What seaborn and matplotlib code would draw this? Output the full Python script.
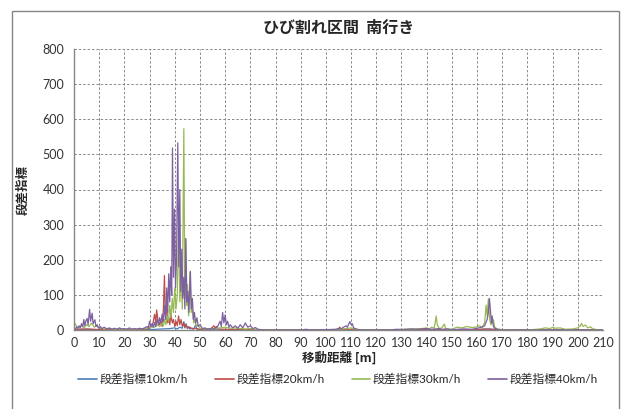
import pandas as pd
import matplotlib.pyplot as plt
import seaborn as sns
from matplotlib.patches import Rectangle
from matplotlib.lines import Line2D

# --------------------------------------------
# DATA
# --------------------------------------------

series_names = ["段差指標10km/h", "段差指標20km/h", "段差指標30km/h", "段差指標40km/h"]
series_colors = ["#4A7EBB", "#BE4B48", "#98B954", "#7D60A0"]

dist_10 = [0, 5, 10, 20, 30, 35, 38, 40, 41, 42, 43, 43.6, 44, 44.5, 45, 45.5, 46, 47,
           47.5, 48.3, 48.7, 49, 50, 60, 100, 160, 165, 170, 210]
val_10 = [1, 2, 1, 0, 1, 3, 4, 6, 3, 8, 5, 24, 6, 18, 4, 10, 3, 5,
          2, 15, 3, 2, 1, 0, 0, 1, 3, 0, 0]

dist_20 = [0, 5, 10, 20, 28, 30, 30.5, 31, 31.5, 32, 32.5, 32.8, 33.3, 34, 34.5, 35, 35.5,
           35.9, 36.3, 36.8, 37.2, 37.6, 38, 38.5, 39, 39.5, 40, 40.5, 41, 41.5, 42, 42.5,
           43, 43.5, 44, 44.5, 45, 46, 47, 48, 50, 54, 55, 55.5, 56, 56.5, 57, 60, 70, 80,
           104, 105, 105.5, 106, 107, 120, 160, 163, 165, 170, 210]
val_20 = [2, 3, 1, 1, 2, 5, 15, 8, 25, 45, 20, 57, 30, 15, 25, 10, 60,
          155, 40, 70, 20, 35, 15, 45, 20, 30, 10, 25, 12, 40, 15, 30,
          10, 20, 8, 15, 5, 8, 3, 5, 2, 3, 8, 12, 6, 10, 3, 2, 1, 0,
          0, 4, 8, 3, 1, 0, 1, 3, 2, 0, 0]

dist_30 = [0, 0.5, 1, 2, 3, 4, 5, 6, 7, 8, 9, 10, 12, 14, 16, 18, 20, 22, 24, 26, 28, 30,
           31, 32, 33, 34, 35, 35.5, 36, 36.5, 37, 37.5, 38, 38.5, 39, 39.5, 40, 40.5, 41,
           41.6, 42, 42.5, 43, 43.6, 44, 44.3, 44.7, 45, 45.5, 46, 46.5, 47, 47.5, 48, 48.5,
           49, 50, 52, 55, 58, 60, 62, 64, 66, 68, 70, 72, 75, 80, 100, 105, 108, 110, 112,
           115, 125, 130, 135, 138, 140, 141, 142, 143, 143.8, 144.2, 145, 146, 147, 147.5,
           148, 150, 152, 154, 156, 158, 160, 161, 162, 163, 163.6, 164, 164.5, 165, 165.5,
           166, 166.5, 167, 168, 170, 175, 180, 185, 187, 189, 190, 191, 193, 195, 198, 200,
           201, 201.5, 202, 203, 204, 205, 206, 207, 208, 210]
val_30 = [15, 18, 10, 8, 12, 6, 15, 10, 20, 8, 12, 5, 3, 4, 2, 3, 2, 3, 2, 3, 4, 6,
          10, 8, 15, 10, 20, 12, 30, 15, 40, 25, 70, 35, 90, 50, 120, 60, 100,
          325, 80, 150, 60, 573, 90, 260, 70, 130, 40, 165, 50, 60, 20, 30, 10,
          15, 5, 3, 4, 6, 8, 5, 6, 4, 3, 4, 2, 1, 0, 0, 2, 4, 6, 2,
          0, 0, 2, 3, 4, 6, 3, 8, 5, 40, 15, 4, 6, 17, 5,
          3, 2, 8, 6, 10, 7, 9, 12, 8, 20, 71, 40, 88, 30, 15,
          20, 29, 8, 3, 1, 0, 0, 3, 6, 4, 8, 5, 6, 2, 3, 6,
          12, 19, 10, 14, 6, 9, 3, 2, 0, 0]

dist_40 = [0, 0.5, 1, 1.5, 2, 2.5, 3, 3.5, 3.9, 4.3, 4.7, 5.2, 5.6, 6.2, 6.6, 7.2, 7.6, 8.3,
           8.7, 9.2, 9.8, 10.5, 11, 12, 13, 14, 15, 16, 17, 18, 19, 20, 21, 22, 23, 24, 25,
           26, 27, 28, 29, 29.5, 30, 30.5, 31, 31.5, 32, 32.5, 33, 33.5, 34, 34.5, 35, 35.5,
           36, 36.4, 36.8, 37.2, 37.6, 38, 38.4, 38.8, 39.1, 39.5, 39.9, 40.3, 40.7, 41.2,
           41.6, 42, 42.4, 42.8, 43.2, 43.6, 44, 44.4, 44.8, 45.2, 45.6, 46.2, 46.6, 47, 47.4,
           47.8, 48.3, 48.8, 49.3, 50, 51, 52, 53, 54, 55, 56, 57, 58, 58.5, 59, 59.5, 60,
           60.5, 61, 61.5, 62, 63, 64, 65, 66, 67, 68, 69, 70, 71, 72, 73, 74, 76, 90, 92, 94,
           100, 104, 105, 106, 107, 108, 108.5, 109.5, 110, 110.5, 111, 112, 113, 115, 125,
           128, 130, 134, 136, 140, 142, 145, 146, 148, 150, 155, 158, 160, 162, 163, 164,
           164.5, 164.9, 165.3, 165.7, 166, 166.5, 167, 168, 170, 210]
val_40 = [5, 3, 8, 5, 12, 6, 18, 10, 30, 12, 25, 33, 15, 59, 25, 48, 18, 29,
          10, 15, 5, 10, 4, 8, 3, 6, 2, 5, 2, 6, 3, 4, 2, 6, 2, 4, 2,
          5, 3, 6, 10, 5, 25, 10, 18, 8, 22, 10, 30, 15, 35, 20, 45, 25,
          70, 30, 120, 50, 160, 80, 180, 100, 518, 150, 344, 120, 200, 533,
          180, 400, 110, 230, 90, 150, 60, 260, 80, 110, 50, 167, 60, 90, 30,
          50, 20, 35, 10, 15, 4, 6, 2, 4, 2, 5, 10, 25, 10, 50, 20, 43,
          15, 25, 8, 15, 6, 12, 5, 15, 6, 20, 8, 12, 4, 7, 2, 1, 0, 0, 2, 0,
          1, 2, 4, 3, 8, 12, 8, 24, 15, 18, 6, 3, 1, 0, 0,
          2, 1, 3, 2, 4, 2, 4, 2, 3, 1, 3, 2, 5, 8, 12, 30,
          50, 90, 57, 20, 40, 10, 5, 2, 0, 0]

x_ticks = list(range(0, 211, 10))
y_ticks = list(range(0, 801, 100))

# --------------------------------------------
# BUILD LONG TABLE
# --------------------------------------------

frames = []
for name, d, v in zip(series_names,
                      [dist_10, dist_20, dist_30, dist_40],
                      [val_10, val_20, val_30, val_40]):
    frames.append(pd.DataFrame({"dist": d, "val": v, "series": name}))
df = pd.concat(frames, ignore_index=True)

# --------------------------------------------
# PLOT
# --------------------------------------------

sns.set_style("white")
plt.rcParams['font.family'] = ['Lato', 'Noto Sans CJK JP', 'DejaVu Sans']

fig = plt.figure(figsize=(6.29, 4.09), dpi=100)
ax = fig.add_axes([74 / 629, 79 / 409, 529 / 629, 281 / 409])

sns.lineplot(data=df, x="dist", y="val", hue="series",
             palette=dict(zip(series_names, series_colors)),
             estimator=None, sort=True, linewidth=0.9, legend=False, ax=ax)

ax.set_xlim(0, 210)
ax.set_ylim(0, 800)
ax.set_xticks(x_ticks)
ax.set_yticks(y_ticks)
ax.tick_params(axis="both", labelsize=9, colors="#333333", length=0)
ax.tick_params(axis="x", pad=5)
ax.tick_params(axis="y", length=3, color="#868686", direction="out", pad=4)

ax.grid(True, color="#8a8a8a", linestyle=(0, (2.5, 2)), linewidth=0.7)
ax.set_axisbelow(True)
for side in ["top", "right"]:
    ax.spines[side].set_visible(False)
for side in ["left", "bottom"]:
    ax.spines[side].set_color("#868686")
    ax.spines[side].set_linewidth(1.0)

ax.set_xlabel("")
ax.set_ylabel("")

fig.text(339 / 629, 1 - 28 / 409, "ひび割れ区間  南行き", ha="center", va="center",
         fontsize=11.5, fontweight="bold", family=['Noto Sans CJK JP'])
fig.text(339 / 629, 1 - 358 / 409, "移動距離 [m]", ha="center", va="center",
         fontsize=9, fontweight="bold", family=['Noto Sans CJK JP'])
fig.text(23 / 629, 1 - 190 / 409, "段差指標", ha="center", va="center", rotation=90,
         fontsize=9, fontweight="bold", family=['Noto Sans CJK JP'])

handles = [Line2D([0], [0], color=c, linewidth=1.2) for c in series_colors]
fig.legend(handles, series_names, loc="center", bbox_to_anchor=(338 / 629, 1 - 379 / 409),
           ncol=4, frameon=False, fontsize=8.5, handlelength=1.6, handletextpad=0.2,
           columnspacing=2.3)

# outer chart frame
fig.patches.append(Rectangle((12 / 629, -0.05), (619 - 12) / 629, 1.05 - 11 / 409,
                             transform=fig.transFigure, fill=False,
                             edgecolor="#868686", linewidth=1.0))

fig.savefig("out.png", dpi=100)
